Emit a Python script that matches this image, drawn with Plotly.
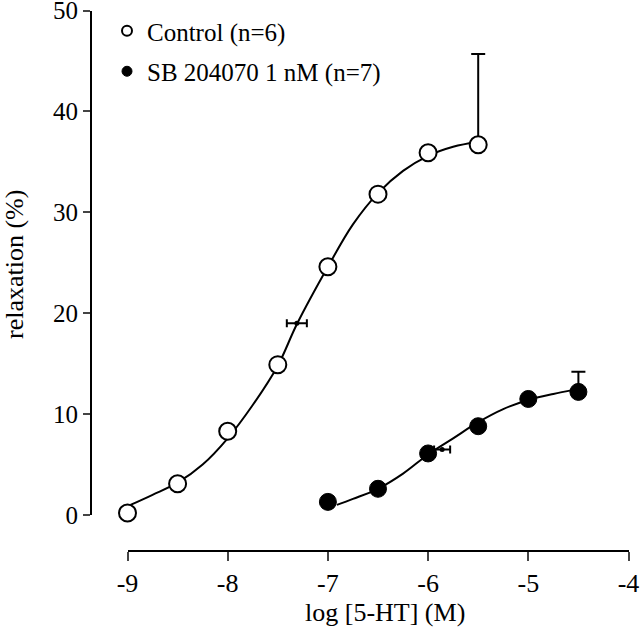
import plotly.graph_objects as go

# concentration-response data
log_conc_ctrl = [-9.0, -8.5, -8.0, -7.5, -7.0, -6.5, -6.0, -5.5]
relax_ctrl = [0.2, 3.1, 8.3, 14.9, 24.6, 31.8, 35.9, 36.7]
err_ctrl = [0, 0, 0, 0, 0, 0, 0, 9.0]

log_conc_sb = [-7.0, -6.5, -6.0, -5.5, -5.0, -4.5]
relax_sb = [1.3, 2.6, 6.1, 8.8, 11.5, 12.2]
err_sb = [0, 0, 0, 0, 0, 2.0]

# EC50 markers with horizontal sem
ec50_x = [-7.31, -5.86]
ec50_y = [19.0, 6.5]
ec50_err = [0.1, 0.08]

# fitted curves
fit_ctrl_x = [-8.97, -8.75, -8.5, -8.25, -8.0, -7.75, -7.5, -7.31, -7.0, -6.75, -6.5, -6.25, -6.0, -5.75, -5.5]
fit_ctrl_y = [1.0, 2.0, 3.2, 5.0, 7.6, 10.9, 14.8, 18.9, 24.6, 28.8, 31.9, 34.1, 35.6, 36.5, 37.0]
fit_sb_x = [-6.91, -6.75, -6.5, -6.25, -6.0, -5.75, -5.5, -5.25, -5.0, -4.75, -4.55]
fit_sb_y = [1.0, 1.6, 2.6, 4.1, 6.0, 7.6, 9.2, 10.5, 11.4, 12.0, 12.4]

x_ticks = [-9, -8, -7, -6, -5, -4]
x_ticklabels = ["-9", "-8", "-7", "-6", "-5", "-4"]
y_ticks = [0, 10, 20, 30, 40, 50]

FONT = "Liberation Serif"
W, H = 640, 634

fig = go.Figure()
fig.add_trace(go.Scatter(x=fit_ctrl_x, y=fit_ctrl_y, mode="lines", line=dict(color="black", width=2, shape="spline"),
                         showlegend=False, cliponaxis=False))
fig.add_trace(go.Scatter(x=fit_sb_x, y=fit_sb_y, mode="lines", line=dict(color="black", width=2, shape="spline"),
                         showlegend=False, cliponaxis=False))
fig.add_trace(go.Scatter(x=ec50_x, y=ec50_y, mode="markers", marker=dict(color="black", size=5),
                         error_x=dict(type="data", array=ec50_err, color="black", thickness=2, width=4),
                         showlegend=False, cliponaxis=False))
fig.add_trace(go.Scatter(x=log_conc_ctrl, y=relax_ctrl, mode="markers",
                         marker=dict(symbol="circle", size=17, color="white", line=dict(color="black", width=2)),
                         error_y=dict(type="data", array=err_ctrl, arrayminus=[0] * len(err_ctrl), color="black",
                                      thickness=2, width=7),
                         showlegend=False, cliponaxis=False))
fig.add_trace(go.Scatter(x=log_conc_sb, y=relax_sb, mode="markers",
                         marker=dict(symbol="circle", size=17, color="black", line=dict(color="black", width=1)),
                         error_y=dict(type="data", array=err_sb, arrayminus=[0] * len(err_sb), color="black",
                                      thickness=2, width=7),
                         showlegend=False, cliponaxis=False))

# legend-only entries (smaller symbols like the original)
fig.add_trace(go.Scatter(x=[None], y=[None], mode="markers", name="Control (n=6)", legendgroup="a",
                         marker=dict(size=10, color="white", line=dict(color="black", width=2))))
fig.add_trace(go.Scatter(x=[None], y=[None], mode="markers", name="SB 204070 1 nM (n=7)", legendgroup="b",
                         marker=dict(size=10, color="black", line=dict(color="black", width=1))))

fig.update_layout(
    width=W, height=H,
    margin=dict(l=0, r=0, t=0, b=0, autoexpand=False),
    paper_bgcolor="white", plot_bgcolor="white",
    font=dict(family=FONT, size=26, color="black"),
    legend=dict(x=107 / W, y=1 - 8 / H, xanchor="left", yanchor="top", font=dict(size=25),
                bgcolor="rgba(0,0,0,0)", traceorder="grouped", tracegroupgap=5, itemsizing="trace"),
    xaxis=dict(domain=[127.5 / W, 628.5 / W], range=[-9, -4], anchor="free", position=1 - 550.7 / H,
               tickvals=x_ticks, ticktext=x_ticklabels, ticks="outside", ticklen=9, tickwidth=2,
               showline=True, linecolor="black", linewidth=2, showgrid=False, zeroline=False,
               automargin=False, ticklabeloverflow="allow"),
    yaxis=dict(domain=[1 - 515 / H, 1 - 10.5 / H], range=[0, 50], anchor="free", position=91 / W,
               tickvals=y_ticks, ticks="outside", ticklen=7, tickwidth=2, tickfont=dict(size=25),
               showline=True, linecolor="black", linewidth=2, showgrid=False, zeroline=False,
               automargin=False, ticklabeloverflow="allow"),
    annotations=[
        dict(text="log [5-HT] (M)", x=385 / W, y=1 - 612 / H, xref="paper", yref="paper",
             xanchor="center", yanchor="middle", showarrow=False, font=dict(size=26)),
        dict(text="relaxation (%)", x=14 / W, y=1 - 265 / H, xref="paper", yref="paper",
             xanchor="center", yanchor="middle", showarrow=False, textangle=-90, font=dict(size=26)),
    ],
)

# the page body has an 8px default margin; drop it so the figure fills the window
fig.write_html("out.html", config={"displayModeBar": False},
               post_script="document.body.style.margin='0';")
